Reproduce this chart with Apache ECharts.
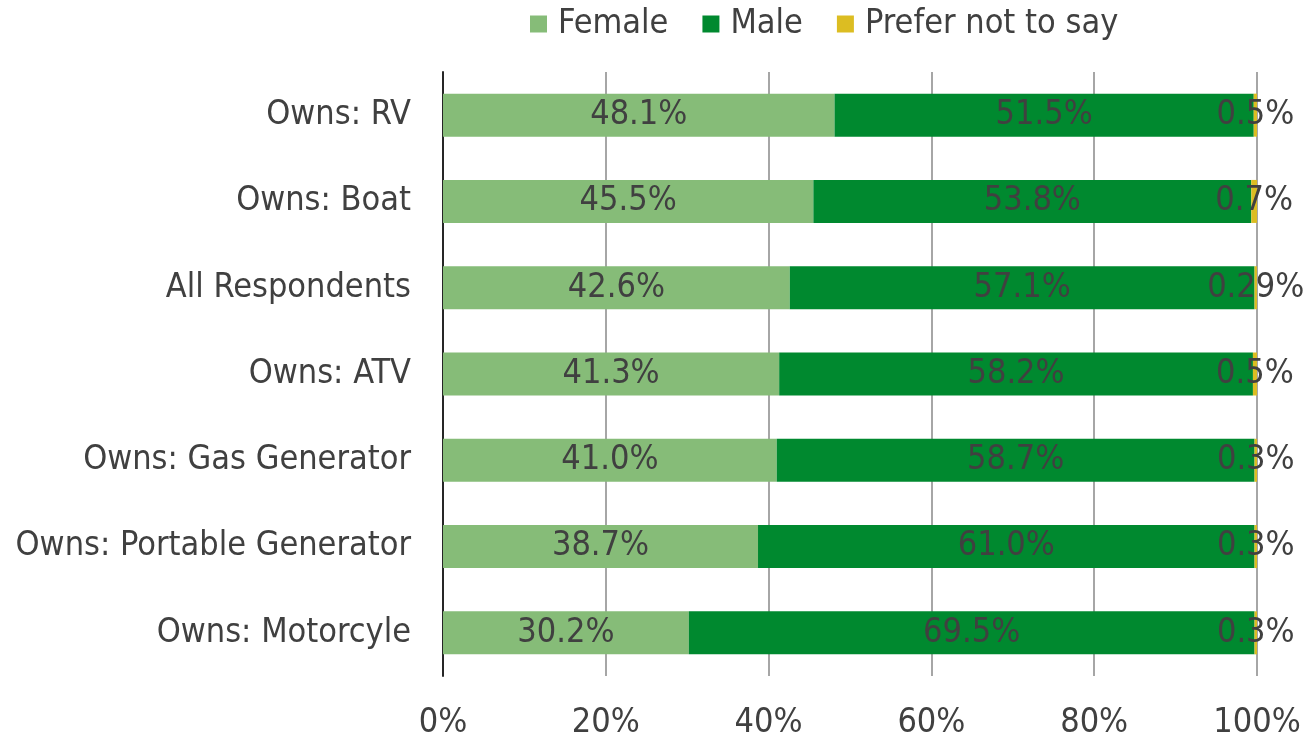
<!DOCTYPE html>
<html><head><meta charset="utf-8">
<script src="https://cdn.jsdelivr.net/npm/echarts@6/dist/echarts.min.js"></script>
<style>html,body{margin:0;padding:0;background:#fff}#c{width:1312px;height:741px}</style>
</head><body><div id="c"></div>
<script>
const categories = ["Owns: RV","Owns: Boat","All Respondents","Owns: ATV","Owns: Gas Generator","Owns: Portable Generator","Owns: Motorcyle"];
const female = [48.1,45.5,42.6,41.3,41.0,38.7,30.2];
const male = [51.5,53.8,57.1,58.2,58.7,61.0,69.5];
const preferNot = [0.5,0.7,0.29,0.5,0.3,0.3,0.3];
const xTicks = ["0%","20%","40%","60%","80%","100%"];

const FONT = "'DejaVu Sans Condensed','DejaVu Sans',sans-serif";
const FS = 34;
const chart = echarts.init(document.getElementById('c'));
function lab(v){ return (Number.isInteger(v*10) ? v.toFixed(1) : String(v)) + '%'; }
function series(name, data, color){
  return {
    name, type:'bar', stack:'t', data, barWidth:43,
    itemStyle:{color},
    label:{show:true, position:'inside', formatter:p=>lab(p.value), color:'#404040', fontSize:FS, fontFamily:FONT},
    labelLayout:{hideOverlap:false}
  };
}
chart.setOption({
  animation:false,
  textStyle:{fontFamily:FONT},
  legend:{top:2, left:525, itemWidth:17, itemHeight:17, itemGap:34, icon:'rect',
    textStyle:{fontSize:FS, color:'#404040', fontFamily:FONT, padding:[0,0,0,6]}, data:['Female','Male','Prefer not to say']},
  grid:{left:443, right:55, top:72, bottom:65, containLabel:false},
  xAxis:{type:'value', min:0, max:100, interval:20,
    axisLabel:{formatter:v=>xTicks[Math.round(v/20)], fontSize:FS, color:'#404040', margin:30, fontFamily:FONT},
    splitLine:{show:true, lineStyle:{color:'#a6a6a6', width:2}},
    axisLine:{show:false}, axisTick:{show:false}},
  yAxis:{type:'category', data:categories, inverse:true,
    axisLine:{show:true, lineStyle:{color:'#262626', width:2}}, axisTick:{show:false},
    axisLabel:{fontSize:FS, color:'#404040', margin:32, fontFamily:FONT}},
  series:[
    series('Female', female, '#86bc78'),
    series('Male', male, '#00892f'),
    series('Prefer not to say', preferNot, '#dcbd22')
  ]
});
</script></body></html>
